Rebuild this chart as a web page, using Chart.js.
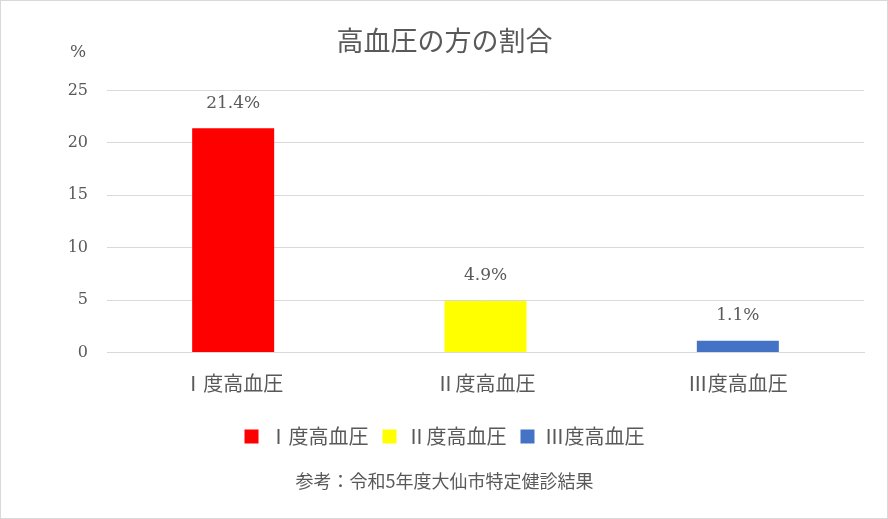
<!DOCTYPE html>
<html>
<head>
<meta charset="utf-8">
<script src="https://cdn.jsdelivr.net/npm/chart.js@4/dist/chart.umd.min.js"></script>
<style>
  html, body { margin: 0; padding: 0; background: #fff; }
  #wrap { width: 888px; height: 519px; box-sizing: border-box; border: 1px solid #d9d9d9; }
</style>
</head>
<body>
<div id="wrap"><canvas id="chart" width="886" height="517"></canvas></div>
<script>
// データ
const categories = ['Ⅰ度高血圧', 'Ⅱ度高血圧', 'Ⅲ度高血圧'];
const values = [21.4, 4.9, 1.1];
const barColors = ['#ff0000', '#ffff00', '#4472c4'];
const yTicks = [0, 5, 10, 15, 20, 25];

// 数字はDejaVu Serif、和文はNoto Sans CJK JP
const numFont = "'DejaVu Serif', 'Noto Sans CJK JP', serif";
const jpFont = "'Noto Sans CJK JP', sans-serif";
const textColor = '#595959';

// 棒の上に値を描く
const valueLabels = {
  id: 'valueLabels',
  afterDatasetsDraw(chart) {
    const ctx = chart.ctx;
    const meta = chart.getDatasetMeta(0);
    ctx.save();
    ctx.font = '17px ' + numFont;
    ctx.fillStyle = textColor;
    ctx.textAlign = 'center';
    ctx.textBaseline = 'middle';
    meta.data.forEach((bar, i) => {
      ctx.fillText(values[i].toFixed(1) + '%', bar.x, bar.y - 25);
    });
    ctx.restore();
  }
};

// 左上の単位
const unitLabel = {
  id: 'unitLabel',
  afterDraw(chart) {
    const ctx = chart.ctx;
    const y = chart.scales.y;
    ctx.save();
    ctx.font = '17px ' + numFont;
    ctx.fillStyle = textColor;
    ctx.textAlign = 'center';
    ctx.textBaseline = 'middle';
    ctx.fillText('%', 77, y.top - 38);
    ctx.restore();
  }
};

new Chart(document.getElementById('chart'), {
  type: 'bar',
  data: {
    labels: categories,
    datasets: [{
      data: values,
      backgroundColor: barColors,
      barPercentage: 0.65,
      categoryPercentage: 0.5
    }]
  },
  options: {
    responsive: false,
    animation: false,
    layout: { padding: { left: 24, right: 23, top: 10, bottom: 26 } },
    scales: {
      x: {
        afterFit(scale) { scale.height = 60; },
        grid: { display: false, drawTicks: false },
        border: { display: true, color: '#d9d9d9', width: 1 },
        ticks: { color: textColor, font: { family: jpFont, size: 20 }, padding: 19 }
      },
      y: {
        min: 0,
        max: 25,
        afterBuildTicks(scale) { scale.ticks = yTicks.map(v => ({ value: v })); },
        afterFit(scale) { scale.width = 82; },
        grid: { color: '#d9d9d9', drawTicks: false },
        border: { display: false },
        ticks: { color: textColor, font: { family: numFont, size: 16 }, padding: 19 }
      }
    },
    plugins: {
      title: {
        display: true,
        text: '高血圧の方の割合',
        color: textColor,
        font: { family: jpFont, size: 27, weight: 'normal' },
        padding: { top: 14, bottom: 33 }
      },
      subtitle: {
        display: true,
        position: 'bottom',
        text: '参考：令和5年度大仙市特定健診結果',
        color: textColor,
        font: { family: jpFont, size: 18 },
        padding: { top: 14, bottom: 0 }
      },
      legend: {
        position: 'bottom',
        labels: {
          color: textColor,
          font: { family: jpFont, size: 20 },
          boxWidth: 14,
          boxHeight: 14,
          padding: 14,
          generateLabels(chart) {
            return categories.map((c, i) => ({
              text: c,
              fillStyle: barColors[i],
              strokeStyle: barColors[i],
              lineWidth: 0,
              fontColor: textColor,
              index: i
            }));
          }
        }
      },
      tooltip: { enabled: false }
    }
  },
  plugins: [valueLabels, unitLabel]
});
</script>
</body>
</html>
